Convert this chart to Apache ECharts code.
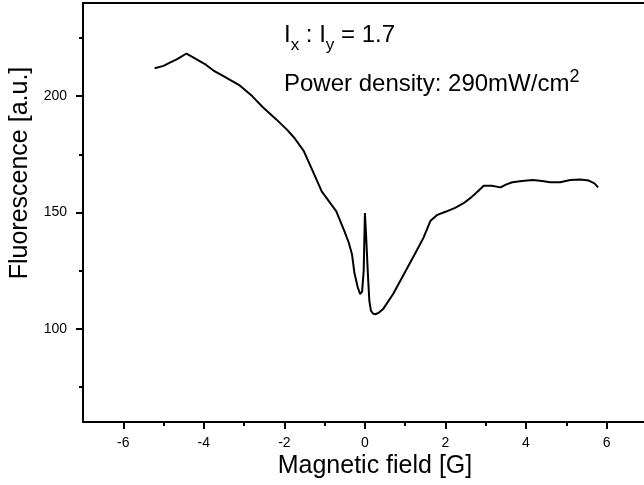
<!DOCTYPE html>
<html>
<head>
<meta charset="utf-8">
<script src="https://cdn.jsdelivr.net/npm/echarts@6/dist/echarts.min.js"></script>
<style>
  html, body { margin: 0; padding: 0; background: #fff; }
  #chartMain { width: 644px; height: 485px; }
</style>
</head>
<body>
<div id="chartMain"></div>
<script>
// magnetic field [G] and fluorescence [a.u.]
var fieldG = [-5.22, -5.0, -4.83, -4.65, -4.43, -4.2, -3.95, -3.76, -3.5, -3.1,
  -2.8, -2.54, -2.2, -1.93, -1.75, -1.52, -1.3, -1.07, -0.9, -0.71,
  -0.51, -0.4, -0.32, -0.26, -0.18, -0.12, -0.07, -0.03, 0.0, 0.03,
  0.07, 0.11, 0.15, 0.2, 0.26, 0.35, 0.46, 0.7, 0.92, 1.22,
  1.45, 1.63, 1.8, 2.0, 2.24, 2.45, 2.64, 2.8, 2.95, 3.15,
  3.37, 3.5, 3.66, 3.9, 4.17, 4.4, 4.6, 4.85, 5.1, 5.35,
  5.56, 5.7, 5.79];
var fluor = [212, 213, 214.5, 216, 218.3, 216, 213.5, 211, 208.5, 204.5,
  200, 195.3, 190, 185.5, 182, 176.5, 168, 159, 155, 150.5,
  142, 137, 132, 124, 118, 115, 116, 125, 149.8, 140,
  125, 112, 107.8, 106.6, 106.3, 107, 108.7, 115, 122, 131.5,
  139, 146.5, 149, 150.3, 152, 154, 156.5, 159, 161.5, 161.5,
  160.8, 162, 163, 163.5, 164, 163.5, 163, 163, 164, 164.2,
  163.7, 162.5, 160.8];

// tick values
var xMajor = [-6, -4, -2, 0, 2, 4, 6];
var xMinor = [-5, -3, -1, 1, 3, 5];
var yMajor = [100, 150, 200];
var yMinor = [75, 125, 175, 225];

var FONT = '"Liberation Sans", Arial, Helvetica, sans-serif';

var myChart = echarts.init(document.getElementById('chartMain'));

// the frame runs off the right edge of the picture, so x stops a bit short of 7
function xAxisOf(ticks, labels, len, pos) {
  return {
    type: 'value', position: pos, min: -7, max: 6.93,
    axisLine: { show: true, onZero: false, lineStyle: { color: '#000', width: 2 } },
    axisTick: { show: len > 0, length: len, customValues: ticks, lineStyle: { color: '#000', width: 2 } },
    axisLabel: { show: labels, customValues: ticks, margin: 14, color: '#000', fontSize: 14, fontFamily: FONT },
    splitLine: { show: false }
  };
}
function yAxisOf(ticks, labels, len) {
  return {
    type: 'value', position: 'left', min: 60, max: 240,
    axisLine: { show: true, onZero: false, lineStyle: { color: '#000', width: 2 } },
    axisTick: { show: true, length: len, customValues: ticks, lineStyle: { color: '#000', width: 2 } },
    axisLabel: { show: labels, customValues: ticks, margin: 16, color: '#000', fontSize: 14, fontFamily: FONT },
    splitLine: { show: false }
  };
}

// sub/superscript text: pieces laid side by side, each with its own baseline
var measureCtx = document.createElement('canvas').getContext('2d');
function textRun(x0, pieces) {
  var out = [];
  var x = x0;
  pieces.forEach(function (p) {
    var font = p.size + 'px ' + FONT;
    // zrender draws with a 'middle' baseline; shift so the glyph baseline lands on p.base
    out.push({
      type: 'text', x: x, y: p.base - 0.3465 * p.size,
      style: { text: p.t, font: font, fill: '#000', align: 'left', verticalAlign: 'middle' }
    });
    measureCtx.font = font;
    x += measureCtx.measureText(p.t).width;
  });
  return out;
}

var data = [];
for (var i = 0; i < fieldG.length; i++) {
  data.push([fieldG[i], fluor[i]]);
}

var notes = [].concat(
  textRun(284, [
    { t: 'I', size: 24, base: 44 },
    { t: 'x', size: 17, base: 51 },
    { t: ' : I', size: 24, base: 44 },
    { t: 'y', size: 17, base: 51 },
    { t: ' = 1.7', size: 24, base: 44 }
  ]),
  textRun(284, [
    { t: 'Power density: 290mW/cm', size: 24, base: 93 },
    { t: '2', size: 18, base: 83 }
  ])
);

var option = {
  backgroundColor: '#fff',
  animation: false,
  grid: { left: 83, right: 0, top: 3, bottom: 63 },
  xAxis: [
    xAxisOf(xMajor, true, 7, 'bottom'),
    xAxisOf(xMinor, false, 4, 'bottom'),
    xAxisOf([], false, 0, 'top')
  ],
  yAxis: [yAxisOf(yMajor, true, 7), yAxisOf(yMinor, false, 4)],
  series: [{
    type: 'line',
    data: data,
    showSymbol: false,
    symbol: 'none',
    lineStyle: { color: '#000', width: 2 },
    z: 3
  }],
  graphic: [
    {
      type: 'text', x: 375, y: 466,
      style: { text: 'Magnetic field [G]', font: '25px ' + FONT, fill: '#000', align: 'center', verticalAlign: 'middle' }
    },
    {
      type: 'text', x: 20, y: 173, rotation: Math.PI / 2,
      style: { text: 'Fluorescence [a.u.]', font: '25px ' + FONT, fill: '#000', align: 'center', verticalAlign: 'middle' }
    }
  ].concat(notes)
};

myChart.setOption(option, true);
</script>
</body>
</html>
